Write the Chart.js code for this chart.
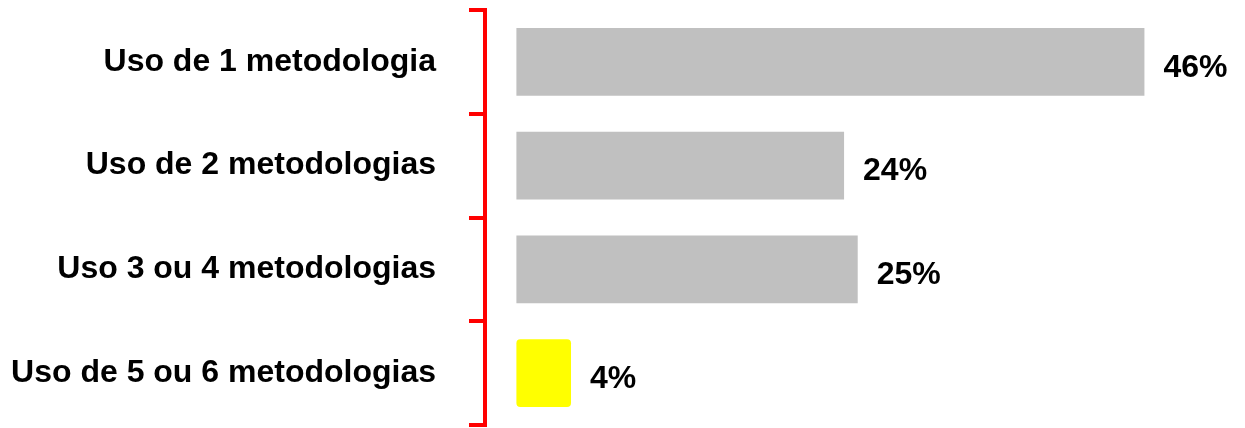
<!DOCTYPE html>
<html>
<head>
<meta charset="utf-8">
<script src="https://cdn.jsdelivr.net/npm/chart.js@4/dist/chart.umd.min.js"></script>
<style>
  html, body { margin: 0; padding: 0; background: #fff; }
  #wrap { width: 1245px; height: 428px; }
</style>
</head>
<body>
<div id="wrap"><canvas id="metodologiasChart"></canvas></div>
<script>
const categories = ['Uso de 1 metodologia', 'Uso de 2 metodologias', 'Uso 3 ou 4 metodologias', 'Uso de 5 ou 6 metodologias'];
const percentValues = [46, 24, 25, 4];
const barColors = ['#C0C0C0', '#C0C0C0', '#C0C0C0', '#FFFF00'];

// value labels drawn just after the end of each bar
const valueLabels = {
  id: 'valueLabels',
  afterDatasetsDraw(chart) {
    const ctx = chart.ctx;
    const meta = chart.getDatasetMeta(0);
    ctx.save();
    ctx.font = 'bold 32px "Liberation Sans", Arial, sans-serif';
    ctx.fillStyle = '#000';
    ctx.textAlign = 'left';
    ctx.textBaseline = 'middle';
    meta.data.forEach((bar, i) => {
      ctx.fillText(percentValues[i] + '%', bar.x + 19, bar.y + 6);
    });
    ctx.restore();
  }
};

const ctx = document.getElementById('metodologiasChart').getContext('2d');
new Chart(ctx, {
  type: 'bar',
  data: {
    labels: categories,
    datasets: [{
      data: percentValues,
      backgroundColor: barColors,
      borderWidth: 0,
      borderRadius: c => (c.dataIndex === 3 ? 4 : 0),
      borderSkipped: false,
      categoryPercentage: 0.655,
      barPercentage: 1
    }]
  },
  options: {
    indexAxis: 'y',
    responsive: true,
    maintainAspectRatio: false,
    animation: false,
    layout: { padding: { top: 10, bottom: 3, left: 12, right: 5 } },
    plugins: {
      legend: { display: false },
      tooltip: { enabled: false }
    },
    scales: {
      x: {
        display: false,
        min: -2.3,
        max: 53
      },
      y: {
        afterFit(scale) {
          // keep the tick padding from eating space above and below
          scale.width = 473;
          scale.paddingTop = 0;
          scale.paddingBottom = 0;
        },
        border: { display: true, color: '#FF0000', width: 4 },
        grid: {
          display: true,
          offset: true,
          drawOnChartArea: false,
          drawTicks: true,
          tickLength: 16,
          color: '#FF0000',
          lineWidth: 4
        },
        ticks: {
          color: '#000',
          padding: 33,
          font: { family: '"Liberation Sans", Arial, sans-serif', size: 32, weight: 'bold' }
        }
      }
    }
  },
  plugins: [valueLabels]
});
</script>
</body>
</html>
